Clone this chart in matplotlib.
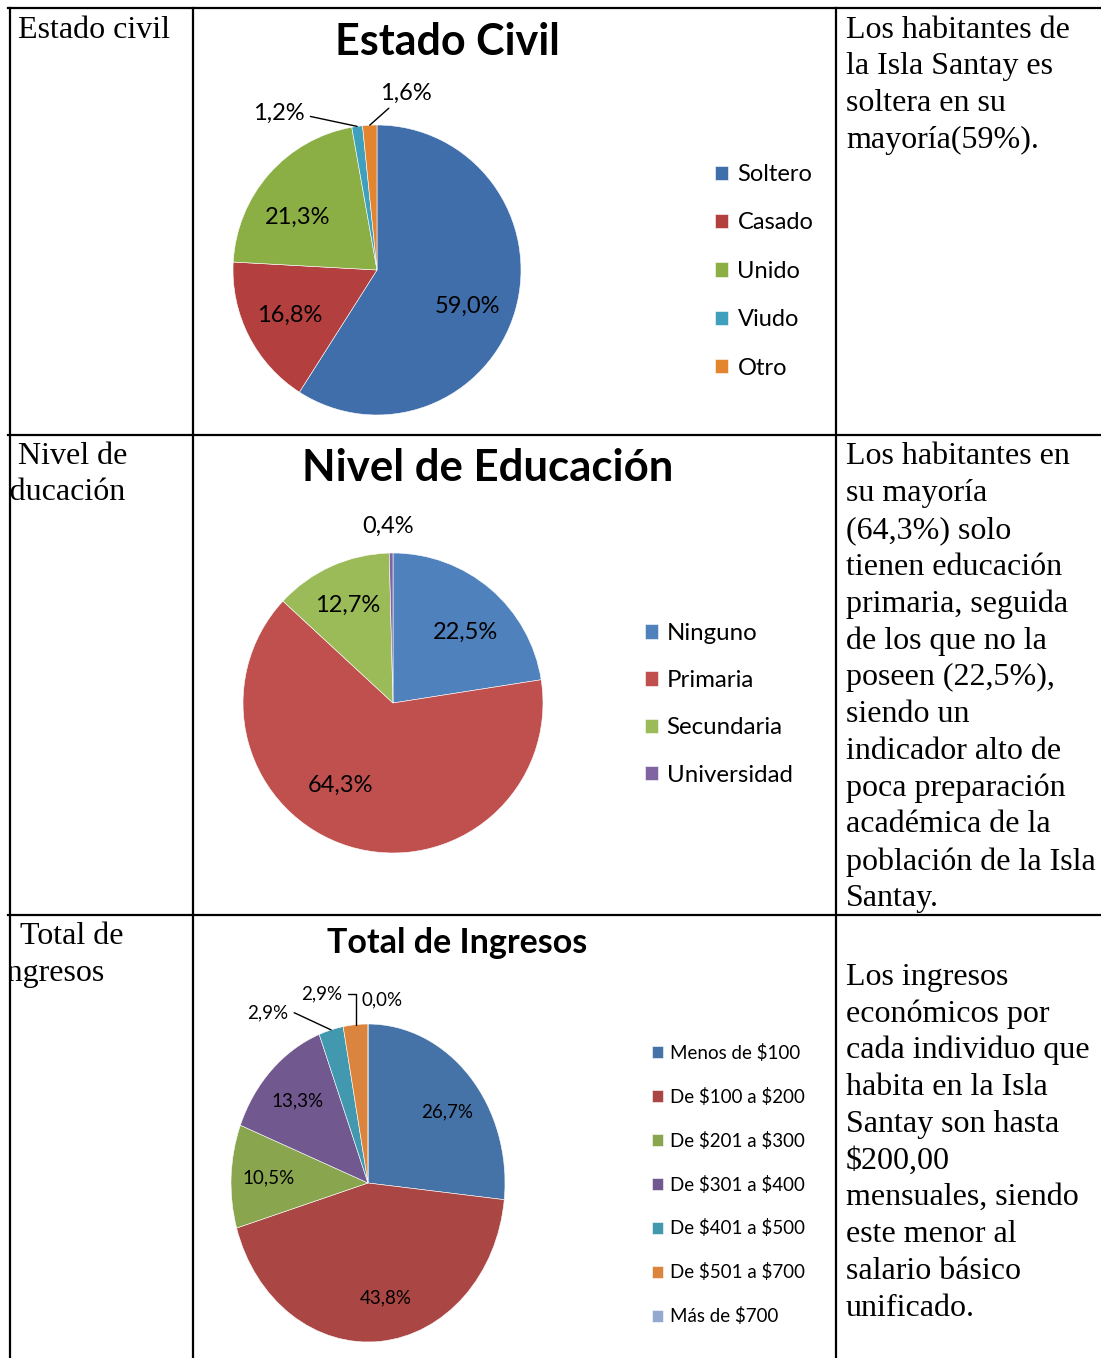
import matplotlib
matplotlib.use("Agg")
import matplotlib.pyplot as plt
import numpy as np
from matplotlib.transforms import Bbox, TransformedBbox

# tamaño del lienzo en pixeles
W, H = 1101, 1358

# --- datos ---
civil_cats = ["Soltero", "Casado", "Unido", "Viudo", "Otro"]
civil_vals = [59.0, 16.8, 21.3, 1.2, 1.6]
civil_cols = ["#3F6EAB", "#B3403E", "#8BAE45", "#3FA0BE", "#E3842F"]

edu_cats = ["Ninguno", "Primaria", "Secundaria", "Universidad"]
edu_vals = [22.5, 64.3, 12.7, 0.4]
edu_cols = ["#4F81BD", "#C0504D", "#9BBB59", "#8064A2"]

ing_cats = ["Menos de \\$100", "De \\$100 a \\$200", "De \\$201 a \\$300", "De \\$301 a \\$400",
            "De \\$401 a \\$500", "De \\$501 a \\$700", "Más de \\$700"]
ing_vals = [26.7, 43.8, 10.5, 13.3, 2.9, 2.9, 0.0]
ing_cols = ["#4572A7", "#AA4643", "#89A54E", "#71588F", "#4198AF", "#DB843D", "#93A9CF"]

texto_civil = ["Los habitantes de", "la Isla Santay es", "soltera en su", "mayoría(59%)."]
texto_edu = ["Los habitantes en", "su mayoría", "(64,3%) solo", "tienen educación",
             "primaria, seguida", "de los que no la", "poseen (22,5%),", "siendo un",
             "indicador alto de", "poca preparación", "académica de la",
             "población de la Isla", "Santay."]
texto_ing = ["Los ingresos", "económicos por", "cada individuo que", "habita en la Isla",
             "Santay son hasta", "\\$200,00", "mensuales, siendo", "este menor al",
             "salario básico", "unificado."]

fig = plt.figure(figsize=(W / 100, H / 100), dpi=100)
fig.patch.set_facecolor("white")

# eje de fondo en pixeles (origen arriba a la izquierda)
bg = fig.add_axes([0, 0, 1, 1])
bg.set_xlim(0, W)
bg.set_ylim(H, 0)
bg.axis("off")

# lineas de la tabla
for y in [8, 435, 915]:
    bg.plot([8, W], [y, y], color="black", lw=1.6)
for x in [10, 193, 836]:
    bg.plot([x, x], [8, H], color="black", lw=1.6)

serif = "Liberation Serif"
fs_tabla = 23
paso = 36.8

# columna izquierda (recortada en el borde como en el documento)
clip = TransformedBbox(Bbox([[10.5, 0], [W, H]]), bg.transData)
izq = [(18, 30, "Estado civil"), (18, 457, "Nivel de"), (-10, 493, "Educación"),
       (20, 937, "Total de"), (-3, 973, "Ingresos")]
for x, y, s in izq:
    t = bg.text(x, y, s, family=serif, fontsize=fs_tabla, va="center", ha="left",
                clip_on=True)
    t.set_clip_box(clip)

# columna derecha
for y0, lineas in [(30, texto_civil), (457, texto_edu), (977, texto_ing)]:
    for i, s in enumerate(lineas):
        bg.text(846, y0 + i * paso, s, family=serif, fontsize=fs_tabla, va="center", ha="left")


def pie_axes(cx, cy, rx, ry):
    ax = fig.add_axes([(cx - rx) / W, 1 - (cy + ry) / H, 2 * rx / W, 2 * ry / H])
    return ax


def fmt(v):
    return f"{v:.1f}%".replace(".", ",")


def dibujar_pie(ax, vals, cols, dist, fs, especiales):
    wedges, _ = ax.pie(vals, colors=cols, startangle=90, counterclock=False,
                       wedgeprops=dict(edgecolor="white", linewidth=0.4), radius=1)
    ax.set_aspect("auto")
    ax.set_xlim(-1, 1)
    ax.set_ylim(-1, 1)
    ax.axis("off")
    for i, w in enumerate(wedges):
        ang = np.deg2rad((w.theta1 + w.theta2) / 2)
        borde = (np.cos(ang), np.sin(ang))
        if i in especiales:
            pos, linea = especiales[i]
            if linea:
                ax.annotate(fmt(vals[i]), xy=borde, xytext=pos, fontsize=fs,
                            family="Lato", ha="center", va="center",
                            arrowprops=dict(arrowstyle="-", color="black", lw=1,
                                            shrinkA=2, shrinkB=0, connectionstyle=linea),
                            annotation_clip=False)
            else:
                ax.text(pos[0], pos[1], fmt(vals[i]), fontsize=fs, family="Lato",
                        ha="center", va="center")
        else:
            ax.text(borde[0] * dist, borde[1] * dist, fmt(vals[i]), fontsize=fs,
                    family="Lato", ha="center", va="center")
    return wedges


# --- grafico 1: estado civil ---
ax1 = pie_axes(377, 270, 144, 145)
w1 = dibujar_pie(ax1, civil_vals, civil_cols, 0.68, 17,
                 {3: ((-0.68, 1.08), "angle,angleA=0,angleB=-12,rad=0"),
                  4: ((0.2, 1.22), "arc3"),
                  2: ((-0.55, 0.36), None), 0: ((0.63, -0.25), None)})
fig.text(447 / W, 1 - 42 / H, "Estado Civil", family="Lato", weight="bold",
         fontsize=31, ha="center", va="center")
ax1.legend(w1, civil_cats, loc="upper left", bbox_to_anchor=(715 / W, 1 - 164 / H),
           bbox_transform=fig.transFigure, frameon=False, prop={"family": "Lato", "size": 17},
           handlelength=0.55, handleheight=0.55, handletextpad=0.4, labelspacing=1.16,
           borderpad=0, borderaxespad=0)

# --- grafico 2: nivel de educacion ---
ax2 = pie_axes(393, 703, 150, 150)
w2 = dibujar_pie(ax2, edu_vals, edu_cols, 0.68, 17,
                 {3: ((-0.03, 1.18), None), 2: ((-0.3, 0.65), None),
                  1: ((-0.35, -0.55), None), 0: ((0.48, 0.47), None)})
fig.text(488 / W, 1 - 468 / H, "Nivel de Educación", family="Lato", weight="bold",
         fontsize=31.5, ha="center", va="center")
ax2.legend(w2, edu_cats, loc="upper left", bbox_to_anchor=(645 / W, 1 - 623 / H),
           bbox_transform=fig.transFigure, frameon=False, prop={"family": "Lato", "size": 17.3},
           handlelength=0.55, handleheight=0.55, handletextpad=0.35, labelspacing=1.09,
           borderpad=0, borderaxespad=0)

# --- grafico 3: total de ingresos ---
ax3 = pie_axes(368, 1183, 137, 159)
w3 = dibujar_pie(ax3, ing_vals, ing_cols, 0.73, 13.5,
                 {4: ((-0.73, 1.07), "angle,angleA=0,angleB=-25,rad=0"),
                  5: ((-0.34, 1.19), "angle,angleA=0,angleB=90,rad=0"),
                  6: ((0.1, 1.15), None), 0: ((0.58, 0.45), None),
                  1: ((0.13, -0.72), None)})
fig.text(457 / W, 1 - 943 / H, "Total de Ingresos", family="Lato", weight="bold",
         fontsize=24.5, ha="center", va="center")
ax3.legend(w3, ing_cats, loc="upper left", bbox_to_anchor=(652 / W, 1 - 1044 / H),
           bbox_transform=fig.transFigure, frameon=False, prop={"family": "Lato", "size": 13.5},
           handlelength=0.6, handleheight=0.6, handletextpad=0.35, labelspacing=1.38,
           borderpad=0, borderaxespad=0)

fig.savefig("out.png", dpi=100)
